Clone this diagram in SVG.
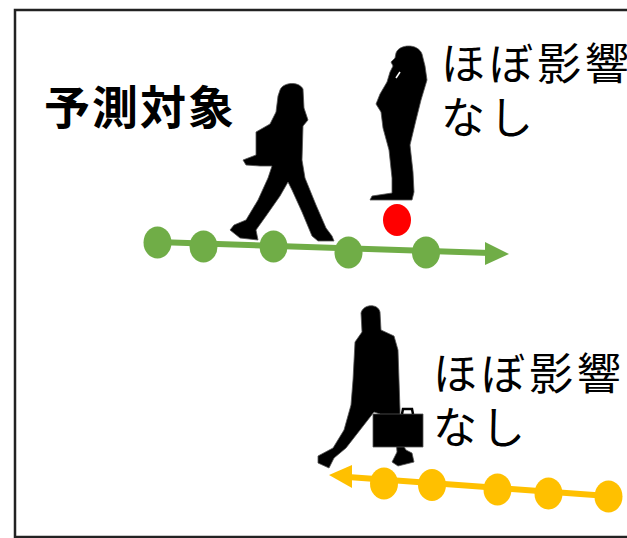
<svg xmlns="http://www.w3.org/2000/svg" width="627" height="538" viewBox="0 0 627 538">
  <defs>
    <style>
      .frame { fill: #ffffff; stroke: #222222; stroke-width: 2.5; }
      .label { font-family: "Noto Sans CJK JP", "Noto Sans", sans-serif; font-size: 44px; fill: #000000; letter-spacing: 4px; }
      .title { font-family: "Noto Sans CJK JP", "Noto Sans", sans-serif; font-size: 46px; font-weight: bold; fill: #000000; letter-spacing: 2px; }
      .person { fill: #000000; stroke: #555555; stroke-width: 0.8; stroke-linejoin: round; }
      .track-green { stroke: #70AD47; stroke-width: 6; fill: none; }
      .dot-green { fill: #70AD47; }
      .track-yellow { stroke: #FFC000; stroke-width: 6; fill: none; }
      .dot-yellow { fill: #FFC000; }
    </style>
  </defs>

  <!-- outer frame (runs off the right edge) -->
  <rect class="frame" x="15" y="10" width="640" height="527"/>

  <!-- target pedestrian: walking woman with bag -->
  <g id="target-walker">
    <path class="person" d="M 280 90 C 283 82, 299 81, 303 89 L 304 108 L 308 120 L 303 126 L 302 160 L 305 178 L 316 205 L 326 228 L 332 236 L 334 241 L 318 241 L 312 236 L 302 212 L 292 190 L 288 182 L 280 196 L 266 216 L 256 230 L 258 240 L 240 238 L 230 230 L 234 225 L 246 220 L 258 200 L 268 178 L 272 166 L 260 166 L 246 165 L 243 160 L 256 155 L 256 132 L 270 124 L 276 112 L 278 96 Z"/>
  </g>

  <!-- standing person, hand raised to the face -->
  <g id="standing-person">
    <path class="person" d="M 396 53 C 399 44, 418 43, 422 54 L 425 66 L 427 80 L 421 100 L 416 120 L 410 145 L 413 172 L 414 192 L 412 200 L 370 200 L 372 196 L 392 193 L 392 178 L 389 150 L 383 128 L 381 112 L 376 104 L 380 94 L 387 82 L 390 72 L 393 66 L 391 62 L 395 58 Z"/>
    <path d="M 396 78 L 400 72" stroke="#ffffff" stroke-width="1.5"/>
    <ellipse cx="397" cy="220" rx="14" ry="16" fill="#FF0000"/>
  </g>

  <!-- walking businessman with briefcase -->
  <g id="businessman">
    <path class="person" d="M 361 313 C 363 304, 378 303, 380 312 L 381 330 L 394 336 L 398 350 L 400 410 L 400 440 L 406 450 L 412 453 L 414 462 L 398 466 L 392 462 L 397 452 L 396 440 L 380 414 L 374 412 L 360 430 L 346 448 L 334 458 L 329 468 L 318 463 L 318 456 L 333 448 L 344 430 L 351 405 L 353 380 L 355 342 L 362 332 Z"/>
    <rect class="person" x="373" y="414" width="50" height="33"/>
    <path d="M 402 414 L 403 409 L 412 409 L 413 414" fill="none" stroke="#000" stroke-width="2.5"/>
  </g>

  <!-- trajectories -->
  <g id="connectors">
    <g id="green-track">
      <line class="track-green" x1="157" y1="242" x2="490" y2="253"/>
      <polygon class="dot-green" points="509,254 485,242 485,265"/>
      <ellipse class="dot-green" cx="157.5" cy="242.5" rx="14" ry="16"/>
      <ellipse class="dot-green" cx="203.5" cy="246.5" rx="14" ry="16"/>
      <ellipse class="dot-green" cx="273.5" cy="246.5" rx="14" ry="16"/>
      <ellipse class="dot-green" cx="348.5" cy="252.5" rx="14" ry="16"/>
      <ellipse class="dot-green" cx="426" cy="252.5" rx="14" ry="16"/>
    </g>
    <g id="yellow-track">
      <line class="track-yellow" x1="608" y1="496" x2="348" y2="477"/>
      <polygon class="dot-yellow" points="329,475 352,465 352,488"/>
      <ellipse class="dot-yellow" cx="384" cy="483.5" rx="14" ry="16"/>
      <ellipse class="dot-yellow" cx="432" cy="485" rx="14" ry="16"/>
      <ellipse class="dot-yellow" cx="497.5" cy="489.5" rx="14" ry="16"/>
      <ellipse class="dot-yellow" cx="548.5" cy="493.5" rx="14" ry="16"/>
      <ellipse class="dot-yellow" cx="608.5" cy="496.5" rx="14" ry="16"/>
    </g>
  </g>

  <!-- labels -->
  <g id="label-target">
    <text class="title" x="44" y="124">予測対象</text>
  </g>
  <g id="label-standing">
    <text class="label" x="441" y="80">ほぼ影響</text>
    <text class="label" x="441" y="134">なし</text>
  </g>
  <g id="label-businessman">
    <text class="label" x="433" y="390">ほぼ影響</text>
    <text class="label" x="433" y="444">なし</text>
  </g>
</svg>
